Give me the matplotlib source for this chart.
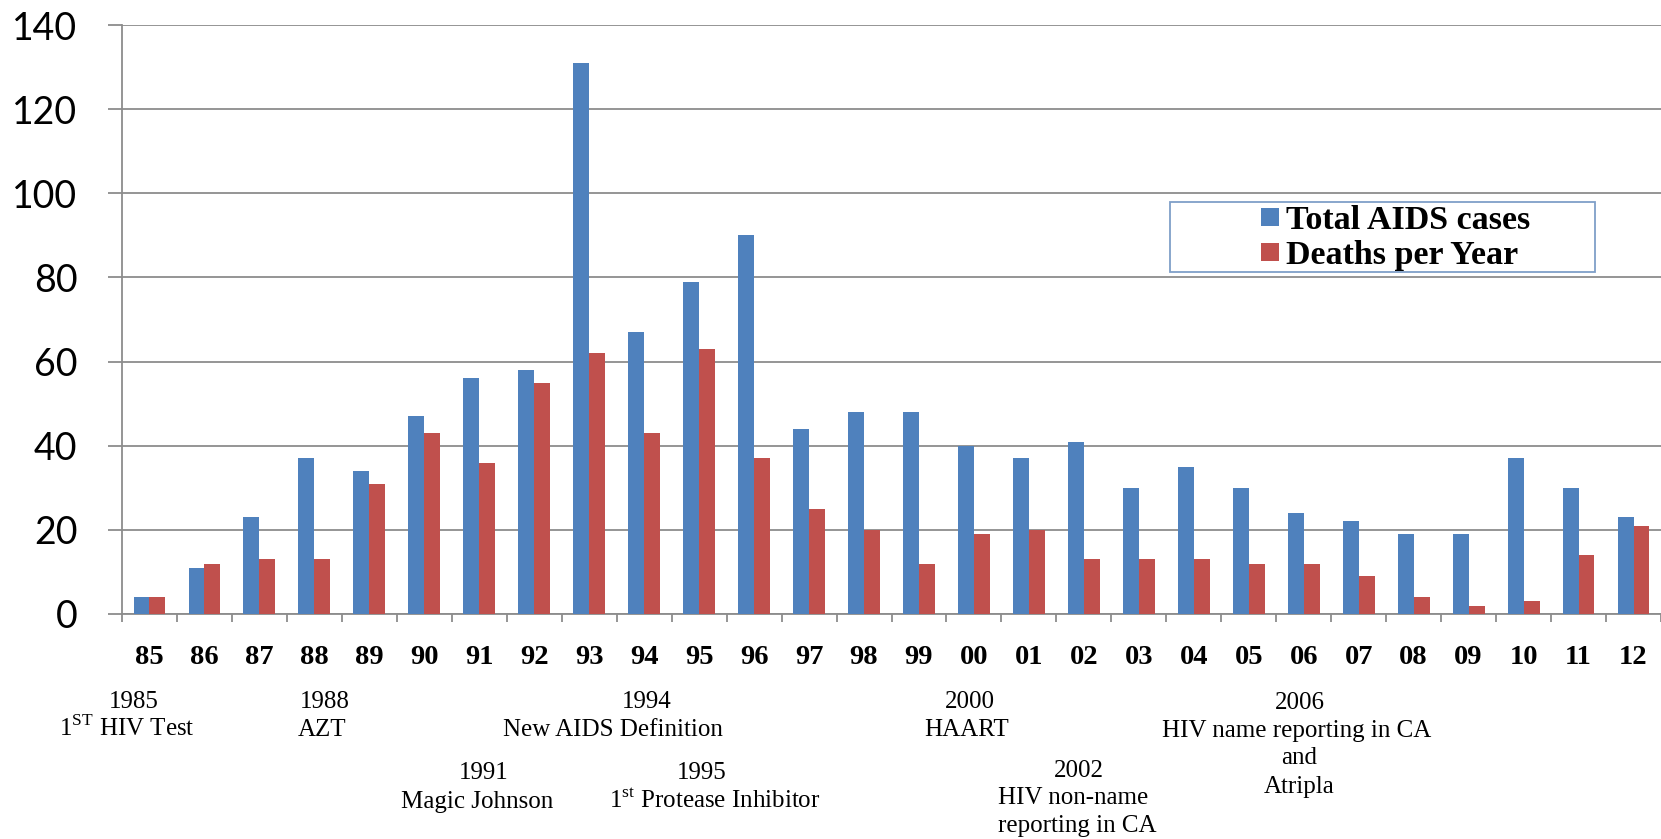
import numpy as np
import matplotlib.pyplot as plt
from matplotlib.patches import Rectangle

plt.rcParams['mathtext.fontset'] = 'custom'
plt.rcParams['mathtext.rm'] = 'Liberation Serif'

years = ["85", "86", "87", "88", "89", "90", "91", "92", "93", "94", "95", "96", "97", "98",
         "99", "00", "01", "02", "03", "04", "05", "06", "07", "08", "09", "10", "11", "12"]
total_cases = [4, 11, 23, 37, 34, 47, 56, 58, 131, 67, 79, 90, 44, 48,
               48, 40, 37, 41, 30, 35, 30, 24, 22, 19, 19, 37, 30, 23]
deaths = [4, 12, 13, 13, 31, 43, 36, 55, 62, 43, 63, 37, 25, 20,
          12, 19, 20, 13, 13, 13, 12, 12, 9, 4, 2, 3, 14, 21]

# milestones: (text, x centre pixel, baseline pixel) in the 1661x839 frame
notes = [
    ("1985", 134, 708), (r"1$^{\mathrm{ST}}$ HIV Test", 127, 736),
    ("1988", 325, 708), ("AZT", 322, 736),
    ("1994", 647, 708), ("New AIDS Definition", 613, 736),
    ("1991", 484, 779), ("Magic Johnson", 477, 808),
    ("1995", 702, 779), (r"1$^{\mathrm{st}}$ Protease Inhibitor", 715, 808),
    ("2000", 970, 708), ("HAART", 967, 736),
    ("2002", 1079, 777), ("HIV non-name", 1073, 804), ("reporting in CA", 1077, 832),
    ("2006", 1300, 709), ("HIV name reporting in CA", 1297, 737),
    ("and", 1299, 764), ("Atripla", 1299, 793),
]

W, H = 1661, 839
fig = plt.figure(figsize=(W / 100, H / 100), dpi=100)
ax = fig.add_axes([122 / W, 1 - 614 / H, 1 - 122 / W, (614 - 25) / H])

x = np.arange(len(years))
bw = 0.29
ax.bar(x - bw / 2, total_cases, bw, color="#4F81BD", label="Total AIDS cases", zorder=3)
ax.bar(x + bw / 2, deaths, bw, color="#C0504D", label="Deaths per Year", zorder=3)

ax.set_xlim(-0.5, len(years) - 0.5)
ax.set_ylim(0, 140)
ax.set_yticks(range(0, 141, 20))
ax.yaxis.grid(True, color="#8c8c8c", linewidth=1.3, zorder=0)
ax.tick_params(axis="y", length=10, width=1.3, color="#8c8c8c", pad=22)
for lab in ax.get_yticklabels():
    lab.set_fontfamily("Lato")
    lab.set_fontsize(27)

ax.set_xticks(x)
ax.set_xticklabels(years, fontfamily="Liberation Serif", fontweight="bold", fontsize=20.5)
ax.tick_params(axis="x", length=0, pad=22)
ax.set_xticks(np.arange(-0.5, len(years), 1), minor=True)
ax.tick_params(axis="x", which="minor", length=6, width=1.3, color="#8c8c8c")

for s in ["top", "right"]:
    ax.spines[s].set_visible(False)
for s in ["left", "bottom"]:
    ax.spines[s].set_color("#8c8c8c")
    ax.spines[s].set_linewidth(1.3)

# legend box drawn separately so its padding matches the picture
fig.patches.append(Rectangle((1170 / W, 1 - 272 / H), 425 / W, 70 / H,
                             transform=fig.transFigure, facecolor="white",
                             edgecolor="#7f9fc8", linewidth=1.3, zorder=5))
leg = fig.legend(loc="center left", bbox_to_anchor=(1244 / W, 1 - 238 / H),
                 frameon=False, handlelength=0.53, handleheight=0.44,
                 handletextpad=0.2, labelspacing=0.1, borderpad=0,
                 prop={"family": "Liberation Serif", "weight": "bold", "size": 24.5})
leg.set_zorder(6)

for text, px, py in notes:
    fig.text(px / W, 1 - py / H, text, ha="center", va="baseline",
             fontfamily="Liberation Serif", fontsize=18)

fig.savefig("out.png", dpi=100)
